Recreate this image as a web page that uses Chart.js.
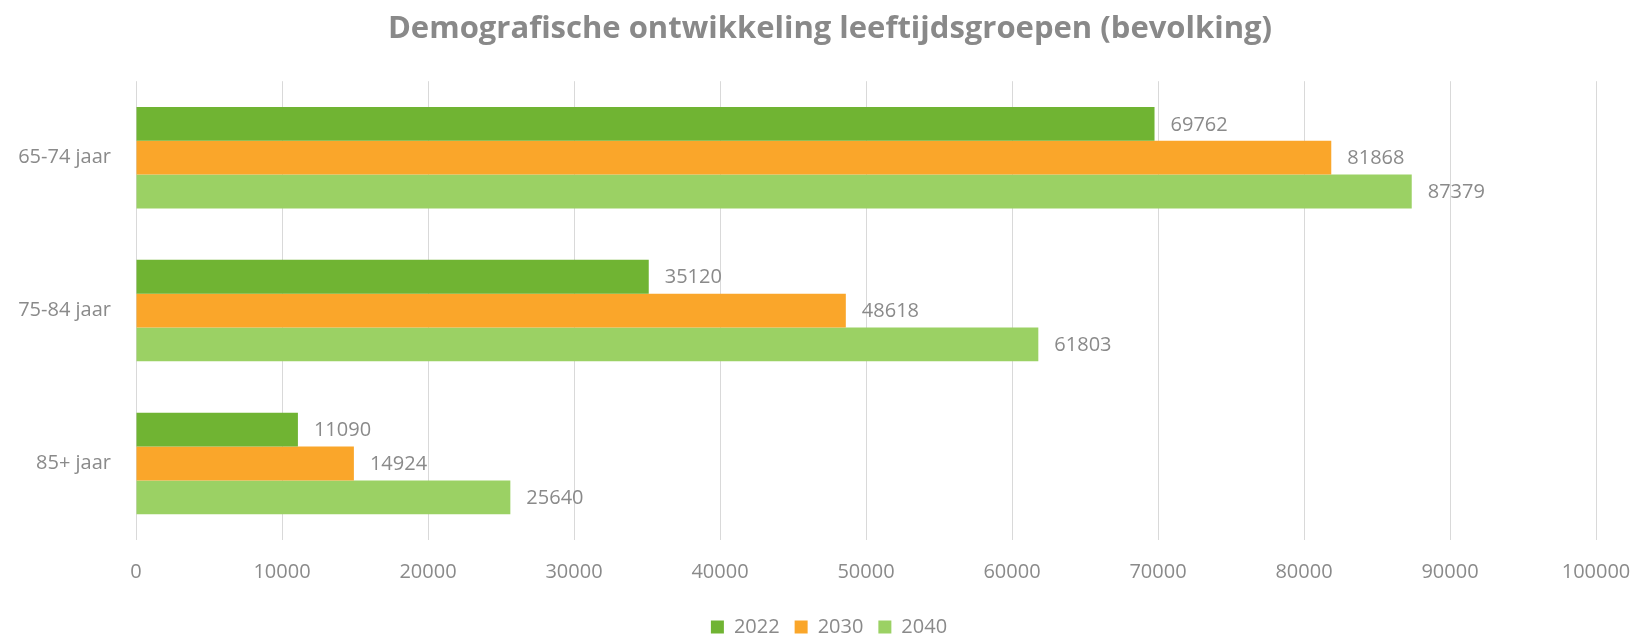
<!DOCTYPE html>
<html>
<head>
<meta charset="utf-8">
<script src="https://cdn.jsdelivr.net/npm/chart.js@4"></script>
<style>
  html, body { margin: 0; padding: 0; background: #fff; }
  #wrap { width: 1641px; height: 638px; }
</style>
</head>
<body>
<div id="wrap"><canvas id="chart" width="1641" height="638"></canvas></div>
<script>
const categories = ["65-74 jaar", "75-84 jaar", "85+ jaar"];
const seriesNames = ["2022", "2030", "2040"];
const values2022 = [69762, 35120, 11090];
const values2030 = [81868, 48618, 14924];
const values2040 = [87379, 61803, 25640];
const xTicks = [0, 10000, 20000, 30000, 40000, 50000, 60000, 70000, 80000, 90000, 100000];

const colors = ["#70b433", "#faa62a", "#9bd164"];
const grey = "#8a8a8a";
const fontFamily = "'Open Sans', sans-serif";

// value labels just right of each bar
const valueLabels = {
  id: "valueLabels",
  afterDatasetsDraw(chart) {
    const ctx = chart.ctx;
    ctx.save();
    ctx.font = "20px " + fontFamily;
    ctx.fillStyle = grey;
    ctx.textBaseline = "middle";
    ctx.textAlign = "left";
    chart.data.datasets.forEach((ds, i) => {
      chart.getDatasetMeta(i).data.forEach((bar, j) => {
        ctx.fillText(String(ds.data[j]), bar.x + 16, bar.y + 1);
      });
    });
    ctx.restore();
  }
};

// original centres title and legend a bit right of the canvas middle
const shiftBoxes = {
  id: "shiftBoxes",
  afterLayout(chart) {
    if (chart.titleBlock) chart.titleBlock.left += 64;
    if (chart.legend) chart.legend.left += 62;
  }
};

new Chart(document.getElementById("chart"), {
  type: "bar",
  data: {
    labels: categories,
    datasets: [values2022, values2030, values2040].map((d, i) => ({
      label: seriesNames[i],
      data: d,
      backgroundColor: colors[i],
      borderWidth: 0,
      categoryPercentage: 0.664,
      barPercentage: 1
    }))
  },
  options: {
    indexAxis: "y",
    responsive: false,
    animation: false,
    layout: { padding: { left: 0, right: 45, top: 0, bottom: -9 } },
    scales: {
      x: {
        min: 0,
        max: 100000,
        afterBuildTicks: (s) => { s.ticks = xTicks.map(v => ({ value: v })); },
        grid: { color: "#d9d9d9", lineWidth: 1, drawTicks: false },
        border: { display: false },
        ticks: {
          color: grey,
          font: { size: 20, family: fontFamily },
          padding: 20,
          maxRotation: 0,
          callback: (v) => String(v)
        },
        afterFit: (s) => {
          s.height = 62;
          s.paddingLeft = 0;
          s.paddingRight = 0;
        }
      },
      y: {
        grid: { display: false, drawTicks: false },
        border: { display: false },
        ticks: { color: grey, font: { size: 20, family: fontFamily }, padding: 25 },
        afterFit: (s) => { s.width = 136; }
      }
    },
    plugins: {
      title: {
        display: true,
        text: "Demografische ontwikkeling leeftijdsgroepen (bevolking)",
        color: "#898989",
        font: { size: 31, weight: "bold", family: fontFamily },
        padding: { top: 11, bottom: 33 }
      },
      legend: {
        position: "bottom",
        labels: {
          color: grey,
          font: { size: 20, family: fontFamily },
          boxWidth: 13,
          boxHeight: 13,
          padding: 15
        }
      },
      tooltip: { enabled: false }
    }
  },
  plugins: [valueLabels, shiftBoxes]
});
</script>
</body>
</html>
